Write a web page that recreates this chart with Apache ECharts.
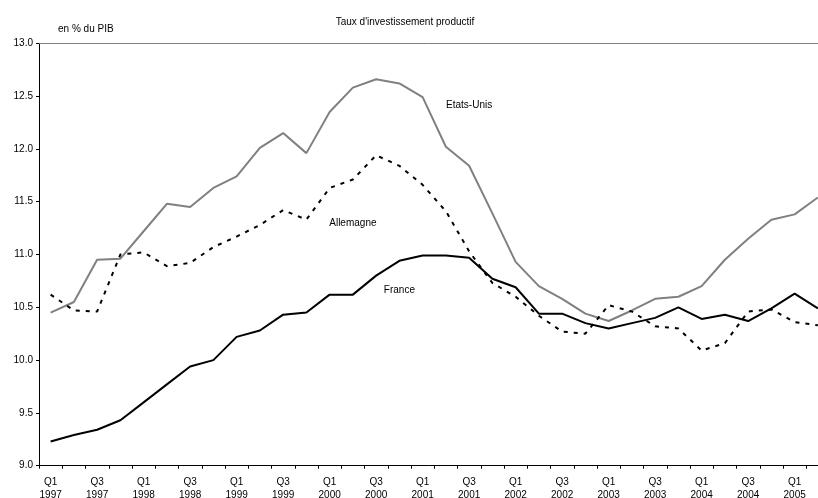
<!DOCTYPE html>
<html>
<head>
<meta charset="utf-8">
<script src="https://cdn.jsdelivr.net/npm/echarts@6/dist/echarts.min.js"></script>
<style>html,body{margin:0;padding:0;background:#fff}#c{width:818px;height:498px}</style>
</head>
<body>
<div id="c"></div>
<script>
const quarters = ['Q1','Q2','Q3','Q4'];
const years = [1997,1998,1999,2000,2001,2002,2003,2004,2005];
const categories = [];
years.forEach(y => quarters.forEach(q => categories.push(q + '\n' + y)));
categories.length = 34; // Q1 1997 .. Q2 2005

const france = [9.23,9.29,9.34,9.43,9.60,9.77,9.94,10.00,10.22,10.28,10.43,10.45,10.62,10.62,10.80,10.94,10.99,10.99,10.97,10.77,10.69,10.44,10.44,10.35,10.30,10.35,10.40,10.50,10.39,10.43,10.37,10.49,10.63,10.49];
const etatsUnis = [10.45,10.55,10.95,10.96,11.22,11.48,11.45,11.63,11.74,12.01,12.15,11.96,12.35,12.58,12.66,12.62,12.49,12.02,11.84,11.39,10.93,10.70,10.58,10.44,10.37,10.47,10.58,10.60,10.70,10.95,11.15,11.33,11.38,11.54];
const allemagne = [10.62,10.47,10.46,11.00,11.02,10.89,10.92,11.07,11.17,11.28,11.42,11.33,11.63,11.71,11.94,11.84,11.66,11.41,11.03,10.73,10.60,10.42,10.27,10.25,10.52,10.46,10.32,10.30,10.09,10.16,10.46,10.48,10.36,10.33];
const yTicks = { min: 9, max: 13, step: 0.5 };

const FONT = 'Liberation Sans, Arial, sans-serif';
const chart = echarts.init(document.getElementById('c'), null, {renderer: 'canvas'});

function seriesLabel(name, idx, val) {
  return {
    silent: true,
    symbol: 'circle', symbolSize: 0,
    data: [{ coord: [idx, val], value: name }],
    label: { show: true, position: 'inside', formatter: name, color: '#000', fontSize: 10, fontFamily: FONT }
  };
}

chart.setOption({
  animation: false,
  backgroundColor: '#fff',
  title: [
    { text: "Taux d'investissement productif", left: 400, top: 12, textAlign: 'center',
      textStyle: { fontSize: 10, fontWeight: 'normal', color: '#000', fontFamily: FONT } },
    { text: 'en % du PIB', left: 53, top: 19,
      textStyle: { fontSize: 10, fontWeight: 'normal', color: '#000', fontFamily: FONT } }
  ],
  grid: { left: 39, top: 43.3, bottom: 32.3, right: -11.5, containLabel: false, outerBoundsMode: 'none' },
  xAxis: [{
    type: 'category', data: categories, boundaryGap: true, position: 'bottom',
    axisLine: { lineStyle: { color: '#000', width: 1 } },
    axisTick: { show: true, interval: 0, length: 3, lineStyle: { color: '#000' } },
    axisLabel: { interval: 1, color: '#000', fontSize: 10, fontFamily: FONT, lineHeight: 13, margin: 10 },
    splitLine: { show: false }
  }, {
    type: 'category', data: categories, position: 'top', boundaryGap: true,
    axisLine: { show: true, lineStyle: { color: '#808080', width: 1 } },
    axisTick: { show: false }, axisLabel: { show: false }, splitLine: { show: false }
  }],
  yAxis: {
    type: 'value', min: yTicks.min, max: yTicks.max, interval: yTicks.step,
    axisLine: { show: true, lineStyle: { color: '#000', width: 1 } },
    axisTick: { show: true, length: 3, lineStyle: { color: '#000' } },
    axisLabel: { color: '#000', fontSize: 10, fontFamily: FONT, margin: 6, formatter: v => v.toFixed(1) },
    splitLine: { show: false }
  },
  series: [
    { name: 'Etats-Unis', type: 'line', data: etatsUnis, symbol: 'none',
      lineStyle: { color: '#808080', width: 2 }, z: 2,
      markPoint: seriesLabel('Etats-Unis', 18, 12.41) },
    { name: 'Allemagne', type: 'line', data: allemagne, symbol: 'none',
      lineStyle: { color: '#000', width: 2, type: [4, 6] }, z: 3,
      markPoint: seriesLabel('Allemagne', 13, 11.30) },
    { name: 'France', type: 'line', data: france, symbol: 'none',
      lineStyle: { color: '#000', width: 2 }, z: 4,
      markPoint: seriesLabel('France', 15, 10.66) }
  ]
});
</script>
</body>
</html>
